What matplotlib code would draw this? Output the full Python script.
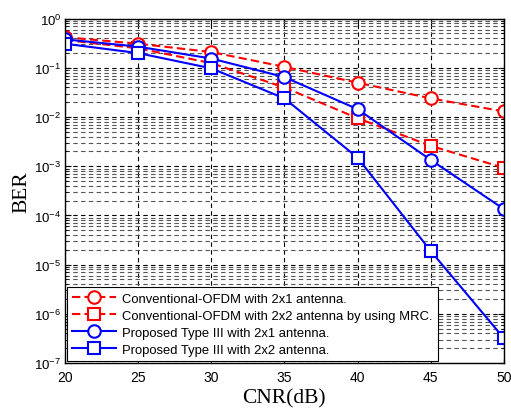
import matplotlib
matplotlib.use("Agg")
import matplotlib.pyplot as plt
from matplotlib.ticker import LogLocator, FixedLocator, NullFormatter

plt.rcParams['font.family'] = ['Liberation Sans', 'DejaVu Sans']
plt.rcParams['mathtext.default'] = 'regular'

cnr = [20, 25, 30, 35, 40, 45, 50]
conv_2x1 = [0.42, 0.31, 0.21, 0.105, 0.050, 0.024, 0.013]
conv_2x2_mrc = [0.37, 0.25, 0.125, 0.040, 0.0095, 0.0026, 0.00093]
prop_2x1 = [0.38, 0.27, 0.155, 0.065, 0.0145, 0.00135, 0.000135]
prop_2x2 = [0.31, 0.20, 0.098, 0.024, 0.0015, 1.9e-5, 3.2e-7]

labels = [
    "Conventional-OFDM with 2x1 antenna.",
    "Conventional-OFDM with 2x2 antenna by using MRC.",
    "Proposed Type III with 2x1 antenna.",
    "Proposed Type III with 2x2 antenna.",
]
xticks = [20, 25, 30, 35, 40, 45, 50]
ydecades = [0, -1, -2, -3, -4, -5, -6, -7]

fig = plt.figure(figsize=(5.11, 4.10), dpi=100)
ax = fig.add_axes([0.127, 0.112, 0.859, 0.840])

dash = (0, (4, 2))
common = dict(lw=1.5, markersize=9, markerfacecolor='white', markeredgewidth=1.5)
ax.plot(cnr, conv_2x1, color='red', ls=dash, marker='o', markeredgecolor='red', label=labels[0], **common)
ax.plot(cnr, conv_2x2_mrc, color='red', ls=dash, marker='s', markeredgecolor='red', label=labels[1], **common)
ax.plot(cnr, prop_2x1, color='blue', ls='-', marker='o', markeredgecolor='blue', label=labels[2], **common)
ax.plot(cnr, prop_2x2, color='blue', ls='-', marker='s', markeredgecolor='blue', label=labels[3], **common)

ax.set_yscale('log')
ax.set_xlim(20, 50)
ax.set_ylim(1e-7, 1)
ax.set_xticks(xticks)
ax.set_xticklabels([str(v) for v in xticks])
ax.yaxis.set_major_locator(FixedLocator([10.0 ** d for d in ydecades]))
ax.set_yticklabels(['$10^{%d}$' % d for d in ydecades])
ax.yaxis.set_minor_locator(LogLocator(base=10, subs=range(2, 10), numticks=20))
ax.yaxis.set_minor_formatter(NullFormatter())

ax.grid(True, which='major', axis='both', color='black', ls=(0, (4, 3)), lw=0.8)
ax.grid(True, which='minor', axis='y', color='#555555', ls=(0, (4, 3)), lw=0.8)
ax.set_axisbelow(True)

ax.tick_params(which='both', direction='in', top=True, right=True)
ax.tick_params(axis='x', labelsize=10, pad=5)
ax.tick_params(axis='y', labelsize=9.5, pad=2.5)
ax.tick_params(which='minor', length=2)
ax.tick_params(which='major', length=4)
for s in ax.spines.values():
    s.set_linewidth(1.0)

ax.set_xlabel('CNR(dB)', fontsize=15.5, family='Liberation Serif', labelpad=3)
ax.set_ylabel('BER', fontsize=15.5, family='Liberation Serif', labelpad=2)

leg = ax.legend(loc='lower left', fontsize=9.4, frameon=True, fancybox=False,
                edgecolor='black', framealpha=1, borderaxespad=0.15,
                handlelength=3.4, labelspacing=0.38, borderpad=0.4, handletextpad=0.45)
leg.get_frame().set_linewidth(0.8)

fig.savefig('out.png', dpi=100)
